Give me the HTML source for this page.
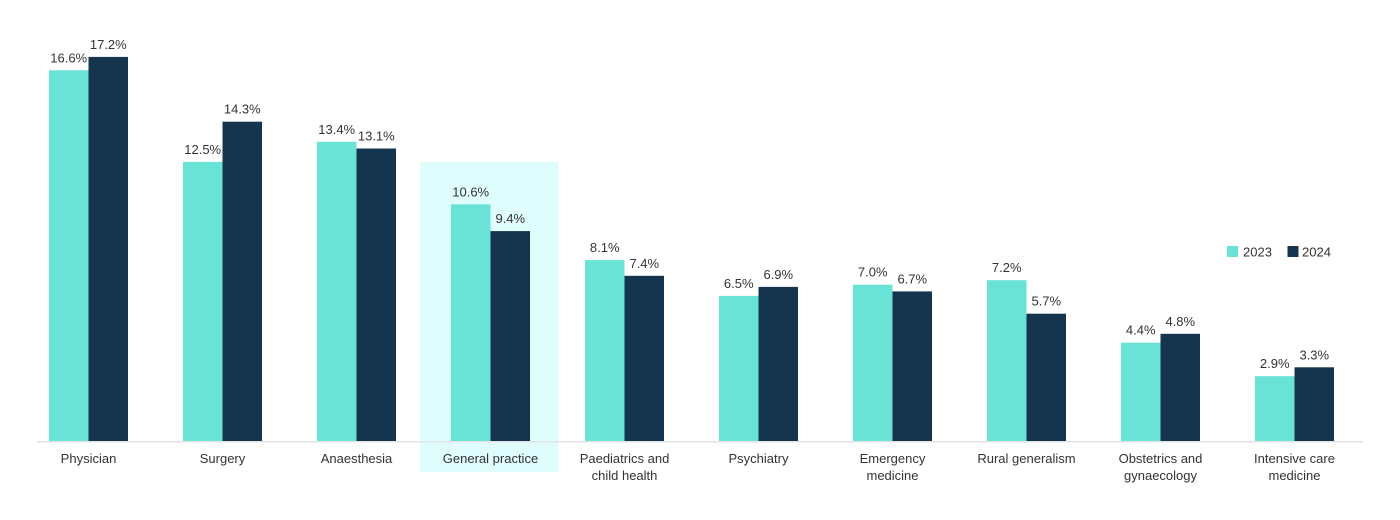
<!DOCTYPE html>
<html><head><meta charset="utf-8"><style>
html,body{margin:0;padding:0;background:#fff;}
svg{display:block;font-family:"Liberation Sans",Arial,sans-serif;}
</style></head><body>
<svg width="1400" height="520" viewBox="0 0 1400 520" xmlns="http://www.w3.org/2000/svg">
<rect x="0" y="0" width="1400" height="520" fill="#fff"/>
<rect x="420" y="162" width="138" height="310" fill="#dffdfd"/>
<g fill="#68e3d6">
<rect x="49" y="70.3" width="39.5" height="370.7"/>
<rect x="183" y="161.9" width="39.5" height="279.1"/>
<rect x="317" y="141.8" width="39.5" height="299.2"/>
<rect x="451" y="204.3" width="39.5" height="236.7"/>
<rect x="585" y="260.1" width="39.5" height="180.9"/>
<rect x="719" y="295.9" width="39.5" height="145.1"/>
<rect x="853" y="284.7" width="39.5" height="156.3"/>
<rect x="987" y="280.2" width="39.5" height="160.8"/>
<rect x="1121" y="342.7" width="39.5" height="98.3"/>
<rect x="1255" y="376.2" width="39.5" height="64.8"/>
</g>
<g fill="#14354d">
<rect x="88.5" y="56.9" width="39.5" height="384.1"/>
<rect x="222.5" y="121.7" width="39.5" height="319.3"/>
<rect x="356.5" y="148.5" width="39.5" height="292.5"/>
<rect x="490.5" y="231.1" width="39.5" height="209.9"/>
<rect x="624.5" y="275.8" width="39.5" height="165.2"/>
<rect x="758.5" y="286.9" width="39.5" height="154.1"/>
<rect x="892.5" y="291.4" width="39.5" height="149.6"/>
<rect x="1026.5" y="313.7" width="39.5" height="127.3"/>
<rect x="1160.5" y="333.8" width="39.5" height="107.2"/>
<rect x="1294.5" y="367.3" width="39.5" height="73.7"/>
</g>
<rect x="37" y="441" width="1326" height="1.5" fill="#e3e3e3"/>
<g font-size="13" fill="#333" text-anchor="middle">
<text x="68.7" y="62.3">16.6%</text>
<text x="108.3" y="48.9">17.2%</text>
<text x="202.7" y="153.9">12.5%</text>
<text x="242.3" y="113.7">14.3%</text>
<text x="336.7" y="133.8">13.4%</text>
<text x="376.3" y="140.5">13.1%</text>
<text x="470.7" y="196.3">10.6%</text>
<text x="510.3" y="223.1">9.4%</text>
<text x="604.7" y="252.1">8.1%</text>
<text x="644.3" y="267.8">7.4%</text>
<text x="738.7" y="287.9">6.5%</text>
<text x="778.3" y="278.9">6.9%</text>
<text x="872.7" y="276.7">7.0%</text>
<text x="912.3" y="283.4">6.7%</text>
<text x="1006.7" y="272.2">7.2%</text>
<text x="1046.3" y="305.7">5.7%</text>
<text x="1140.7" y="334.7">4.4%</text>
<text x="1180.3" y="325.8">4.8%</text>
<text x="1274.7" y="368.2">2.9%</text>
<text x="1314.3" y="359.3">3.3%</text>
</g>
<g font-size="13" fill="#333" text-anchor="middle">
<text x="88.5" y="463">Physician</text>
<text x="222.5" y="463">Surgery</text>
<text x="356.5" y="463">Anaesthesia</text>
<text x="490.5" y="463">General practice</text>
<text x="624.5" y="463">Paediatrics and</text>
<text x="624.5" y="480">child health</text>
<text x="758.5" y="463">Psychiatry</text>
<text x="892.5" y="463">Emergency</text>
<text x="892.5" y="480">medicine</text>
<text x="1026.5" y="463">Rural generalism</text>
<text x="1160.5" y="463">Obstetrics and</text>
<text x="1160.5" y="480">gynaecology</text>
<text x="1294.5" y="463">Intensive care</text>
<text x="1294.5" y="480">medicine</text>
</g>
<rect x="1227" y="246" width="11" height="11" fill="#68e3d6"/>
<text x="1243" y="256.5" font-size="13" fill="#333">2023</text>
<rect x="1287.5" y="246" width="11" height="11" fill="#14354d"/>
<text x="1302" y="256.5" font-size="13" fill="#333">2024</text>
</svg>
</body></html>
